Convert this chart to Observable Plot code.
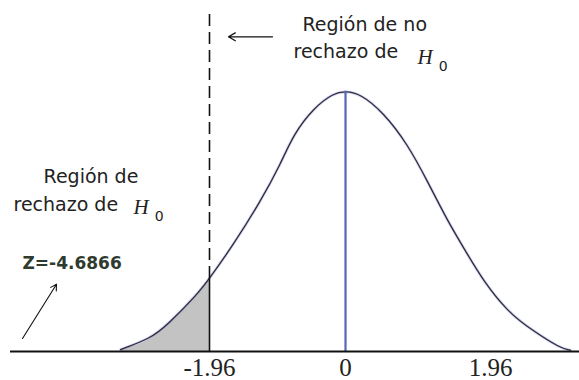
<!DOCTYPE html>
<html><head><meta charset="utf-8">
<script src="https://cdn.jsdelivr.net/npm/d3@7"></script>
<script src="https://cdn.jsdelivr.net/npm/@observablehq/plot@0.6"></script>
<style>body{margin:0;background:#fff}#chart svg{display:block}</style>
</head><body><div id="chart"></div>
<script>
// Curve (z value, density)
const curveZ = [-3.242, -2.810, -2.565, -2.133, -1.960, -1.614, -1.225, -0.937, -0.749, -0.461, -0.173, 0, 0.203, 0.514, 0.838, 1.108, 1.379, 1.649, 1.865, 2.189, 2.541, 2.906, 3.041];
const curveDensity = [0.003, 0.020, 0.041, 0.088, 0.112, 0.164, 0.230, 0.287, 0.333, 0.373, 0.396, 0.399, 0.395, 0.366, 0.318, 0.261, 0.200, 0.149, 0.108, 0.061, 0.031, 0.005, 0.002];
const criticalZ = -1.96;
const criticalDensity = 0.112;
const peakDensity = 0.399;
const tickValues = [-1.96, 0, 1.96];
const tickLabels = ["-1.96", "0", "1.96"];
const noRejectLines = ["Región de no", "rechazo de"];
const rejectLines = ["Región de", "rechazo de"];
const hypSymbol = "H";
const hypIndex = "0";
const zLabel = "Z=-4.6866";

const curve = curveZ.map((z, i) => ({z, d: curveDensity[i]}));
const tail = curve.filter(p => p.z <= criticalZ);

const one = [0];
const sans = "DejaVu Sans";

const chart = Plot.plot({
  width: 579,
  height: 380,
  marginLeft: 10,
  marginRight: 0,
  marginTop: 0,
  marginBottom: 29,
  style: {fontFamily: sans, background: "#fff"},
  x: {type: "linear", domain: [-4.828, -1.96, 0, 1.96, 3.163], range: [10, 209, 345, 490, 579]},
  y: {domain: [0, 0.4], range: [351, 90], axis: null},
  marks: [
    Plot.areaY(tail, {x: "z", y: "d", fill: "#c3c3c3", curve: "monotone-x"}),
    Plot.line(curve, {x: "z", y: "d", stroke: "#7b7fd6", strokeWidth: 3, strokeOpacity: 0.3, curve: "basis"}),
    Plot.line(curve, {x: "z", y: "d", stroke: "#2b2b3a", strokeWidth: 1.3, curve: "basis"}),
    Plot.ruleX(one, {x: () => criticalZ, y1: () => criticalDensity, y2: () => 0.5177, stroke: "#111", strokeWidth: 1.6, strokeDasharray: "12,6"}),
    Plot.ruleX(one, {x: () => criticalZ, y1: () => 0, y2: () => criticalDensity, stroke: "#111", strokeWidth: 1.6}),
    Plot.ruleX(one, {x: () => 0, y1: () => 0, y2: () => peakDensity, stroke: "#5566bb", strokeWidth: 2.2}),
    Plot.ruleY(one, {stroke: "#111", strokeWidth: 2}),
    Plot.axisX(tickValues, {tickSize: 0, tickPadding: 7, tickFormat: (d, i) => tickLabels[i], fontSize: 25, fontFamily: "Liberation Serif", fill: "#222", label: null}),
    // top annotation
    Plot.text([noRejectLines[0]], {x: () => -0.620, y: () => 0.4916, text: d => d, textAnchor: "start", lineAnchor: "bottom", fontSize: 19, fill: "#222"}),
    Plot.text([noRejectLines[1]], {x: () => -0.749, y: () => 0.450, text: d => d, textAnchor: "start", lineAnchor: "bottom", fontSize: 19, fill: "#222"}),
    Plot.text([hypSymbol], {x: () => 0.973, y: () => 0.441, text: d => d, textAnchor: "start", lineAnchor: "bottom", fontSize: 21, fontStyle: "italic", fontFamily: "Liberation Serif", fill: "#222"}),
    Plot.text([hypIndex], {x: () => 1.26, y: () => 0.430, text: d => d, textAnchor: "start", lineAnchor: "bottom", fontSize: 14, fill: "#222"}),
    Plot.arrow(one, {x1: () => -1.052, y1: () => 0.4823, x2: () => -1.686, y2: () => 0.4823, stroke: "#111", strokeWidth: 1.3, headLength: 9}),
    // left annotation
    Plot.text([rejectLines[0]], {x: () => -4.352, y: () => 0.258, text: d => d, textAnchor: "start", lineAnchor: "bottom", fontSize: 19, fill: "#222"}),
    Plot.text([rejectLines[1]], {x: () => -4.785, y: () => 0.216, text: d => d, textAnchor: "start", lineAnchor: "bottom", fontSize: 19, fill: "#222"}),
    Plot.text([hypSymbol], {x: () => -3.055, y: () => 0.210, text: d => d, textAnchor: "start", lineAnchor: "bottom", fontSize: 21, fontStyle: "italic", fontFamily: "Liberation Serif", fill: "#222"}),
    Plot.text([hypIndex], {x: () => -2.75, y: () => 0.1997, text: d => d, textAnchor: "start", lineAnchor: "bottom", fontSize: 14, fill: "#222"}),
    Plot.text([zLabel], {x: () => -4.655, y: () => 0.126, text: d => d, textAnchor: "start", lineAnchor: "bottom", fontSize: 17, fontWeight: "bold", fill: "#2e3b2e"}),
    Plot.arrow(one, {x1: () => -4.655, y1: () => 0.020, x2: () => -4.165, y2: () => 0.103, stroke: "#111", strokeWidth: 1.1, headLength: 9})
  ]
});
document.getElementById("chart").append(chart);
</script>
</body></html>
